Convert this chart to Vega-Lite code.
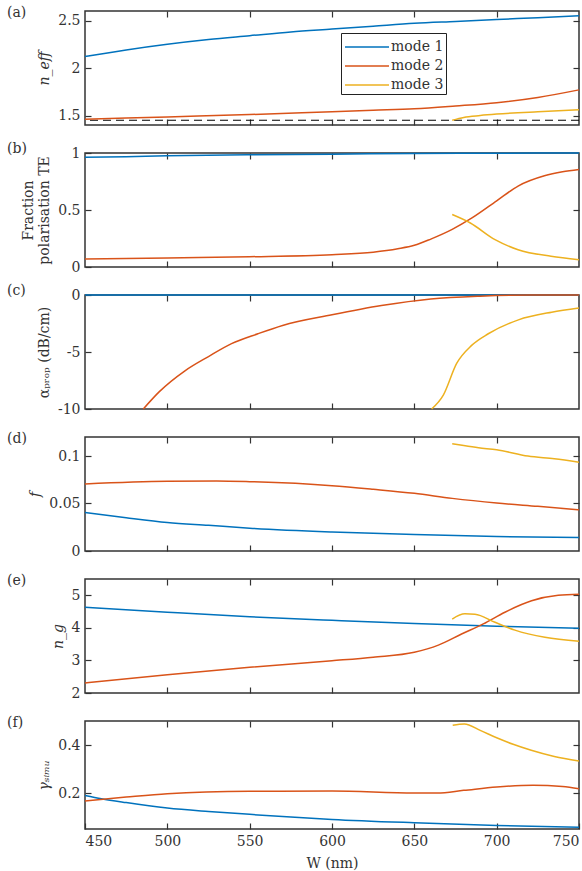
{
  "$schema": "https://vega.github.io/schema/vega-lite/v6.json",
  "padding": {"left": 6, "top": 5, "right": 0, "bottom": 0},
  "spacing": 28,
  "bounds": "flush",
  "datasets": {
    "a": [
      {"W": 450, "mode": "mode 1", "v": 2.12}, {"W": 475, "mode": "mode 1", "v": 2.19}, {"W": 500, "mode": "mode 1", "v": 2.25}, {"W": 525, "mode": "mode 1", "v": 2.30}, {"W": 550, "mode": "mode 1", "v": 2.34}, {"W": 575, "mode": "mode 1", "v": 2.38}, {"W": 600, "mode": "mode 1", "v": 2.41}, {"W": 625, "mode": "mode 1", "v": 2.44}, {"W": 650, "mode": "mode 1", "v": 2.47}, {"W": 675, "mode": "mode 1", "v": 2.49}, {"W": 700, "mode": "mode 1", "v": 2.51}, {"W": 725, "mode": "mode 1", "v": 2.53}, {"W": 750, "mode": "mode 1", "v": 2.55},
      {"W": 450, "mode": "mode 2", "v": 1.46}, {"W": 500, "mode": "mode 2", "v": 1.485}, {"W": 550, "mode": "mode 2", "v": 1.51}, {"W": 600, "mode": "mode 2", "v": 1.54}, {"W": 625, "mode": "mode 2", "v": 1.555}, {"W": 650, "mode": "mode 2", "v": 1.57}, {"W": 675, "mode": "mode 2", "v": 1.6}, {"W": 700, "mode": "mode 2", "v": 1.635}, {"W": 725, "mode": "mode 2", "v": 1.69}, {"W": 750, "mode": "mode 2", "v": 1.77},
      {"W": 673, "mode": "mode 3", "v": 1.45}, {"W": 680, "mode": "mode 3", "v": 1.48}, {"W": 690, "mode": "mode 3", "v": 1.5}, {"W": 700, "mode": "mode 3", "v": 1.515}, {"W": 725, "mode": "mode 3", "v": 1.54}, {"W": 750, "mode": "mode 3", "v": 1.56}
    ],
    "b": [
      {"W": 450, "mode": "mode 1", "v": 0.962}, {"W": 475, "mode": "mode 1", "v": 0.968}, {"W": 500, "mode": "mode 1", "v": 0.975}, {"W": 550, "mode": "mode 1", "v": 0.985}, {"W": 600, "mode": "mode 1", "v": 0.99}, {"W": 650, "mode": "mode 1", "v": 0.995}, {"W": 700, "mode": "mode 1", "v": 0.998}, {"W": 750, "mode": "mode 1", "v": 1.0},
      {"W": 450, "mode": "mode 2", "v": 0.07}, {"W": 500, "mode": "mode 2", "v": 0.08}, {"W": 550, "mode": "mode 2", "v": 0.09}, {"W": 600, "mode": "mode 2", "v": 0.108}, {"W": 625, "mode": "mode 2", "v": 0.13}, {"W": 640, "mode": "mode 2", "v": 0.16}, {"W": 650, "mode": "mode 2", "v": 0.19}, {"W": 660, "mode": "mode 2", "v": 0.245}, {"W": 673, "mode": "mode 2", "v": 0.33}, {"W": 685, "mode": "mode 2", "v": 0.43}, {"W": 700, "mode": "mode 2", "v": 0.58}, {"W": 713, "mode": "mode 2", "v": 0.71}, {"W": 729, "mode": "mode 2", "v": 0.8}, {"W": 740, "mode": "mode 2", "v": 0.835}, {"W": 750, "mode": "mode 2", "v": 0.855},
      {"W": 673, "mode": "mode 3", "v": 0.46}, {"W": 684, "mode": "mode 3", "v": 0.386}, {"W": 699, "mode": "mode 3", "v": 0.24}, {"W": 713, "mode": "mode 3", "v": 0.152}, {"W": 733, "mode": "mode 3", "v": 0.094}, {"W": 750, "mode": "mode 3", "v": 0.064}
    ],
    "c": [
      {"W": 450, "mode": "mode 1", "v": 0}, {"W": 600, "mode": "mode 1", "v": 0}, {"W": 750, "mode": "mode 1", "v": 0},
      {"W": 485.4, "mode": "mode 2", "v": -10}, {"W": 495, "mode": "mode 2", "v": -8.5}, {"W": 510.7, "mode": "mode 2", "v": -6.65}, {"W": 525, "mode": "mode 2", "v": -5.4}, {"W": 539, "mode": "mode 2", "v": -4.27}, {"W": 555, "mode": "mode 2", "v": -3.4}, {"W": 570, "mode": "mode 2", "v": -2.67}, {"W": 600, "mode": "mode 2", "v": -1.74}, {"W": 630, "mode": "mode 2", "v": -0.93}, {"W": 660, "mode": "mode 2", "v": -0.35}, {"W": 690, "mode": "mode 2", "v": -0.1}, {"W": 720, "mode": "mode 2", "v": 0}, {"W": 750, "mode": "mode 2", "v": 0},
      {"W": 660.5, "mode": "mode 3", "v": -10}, {"W": 667.6, "mode": "mode 3", "v": -8.78}, {"W": 675.7, "mode": "mode 3", "v": -6.0}, {"W": 684.8, "mode": "mode 3", "v": -4.42}, {"W": 694.9, "mode": "mode 3", "v": -3.4}, {"W": 713.2, "mode": "mode 3", "v": -2.18}, {"W": 733.4, "mode": "mode 3", "v": -1.51}, {"W": 750, "mode": "mode 3", "v": -1.15}
    ],
    "d": [
      {"W": 450, "mode": "mode 1", "v": 0.0406}, {"W": 475, "mode": "mode 1", "v": 0.035}, {"W": 500, "mode": "mode 1", "v": 0.030}, {"W": 525, "mode": "mode 1", "v": 0.027}, {"W": 550, "mode": "mode 1", "v": 0.024}, {"W": 600, "mode": "mode 1", "v": 0.020}, {"W": 650, "mode": "mode 1", "v": 0.0173}, {"W": 700, "mode": "mode 1", "v": 0.0152}, {"W": 750, "mode": "mode 1", "v": 0.0142},
      {"W": 450, "mode": "mode 2", "v": 0.0706}, {"W": 500, "mode": "mode 2", "v": 0.0734}, {"W": 530, "mode": "mode 2", "v": 0.0737}, {"W": 550, "mode": "mode 2", "v": 0.073}, {"W": 600, "mode": "mode 2", "v": 0.0688}, {"W": 625, "mode": "mode 2", "v": 0.065}, {"W": 650, "mode": "mode 2", "v": 0.0607}, {"W": 673, "mode": "mode 2", "v": 0.0554}, {"W": 700, "mode": "mode 2", "v": 0.0505}, {"W": 725, "mode": "mode 2", "v": 0.047}, {"W": 750, "mode": "mode 2", "v": 0.0434},
      {"W": 673, "mode": "mode 3", "v": 0.113}, {"W": 680, "mode": "mode 3", "v": 0.111}, {"W": 689, "mode": "mode 3", "v": 0.1087}, {"W": 700, "mode": "mode 3", "v": 0.1066}, {"W": 719, "mode": "mode 3", "v": 0.0999}, {"W": 735, "mode": "mode 3", "v": 0.097}, {"W": 750, "mode": "mode 3", "v": 0.0935}
    ],
    "e": [
      {"W": 450, "mode": "mode 1", "v": 4.63}, {"W": 500, "mode": "mode 1", "v": 4.48}, {"W": 550, "mode": "mode 1", "v": 4.34}, {"W": 600, "mode": "mode 1", "v": 4.23}, {"W": 650, "mode": "mode 1", "v": 4.13}, {"W": 700, "mode": "mode 1", "v": 4.05}, {"W": 750, "mode": "mode 1", "v": 3.99},
      {"W": 450, "mode": "mode 2", "v": 2.31}, {"W": 500, "mode": "mode 2", "v": 2.56}, {"W": 550, "mode": "mode 2", "v": 2.79}, {"W": 600, "mode": "mode 2", "v": 2.99}, {"W": 625, "mode": "mode 2", "v": 3.1}, {"W": 650, "mode": "mode 2", "v": 3.25}, {"W": 664.6, "mode": "mode 2", "v": 3.47}, {"W": 678.7, "mode": "mode 2", "v": 3.81}, {"W": 691.9, "mode": "mode 2", "v": 4.12}, {"W": 705, "mode": "mode 2", "v": 4.48}, {"W": 721.2, "mode": "mode 2", "v": 4.83}, {"W": 737.4, "mode": "mode 2", "v": 5.0}, {"W": 750, "mode": "mode 2", "v": 5.03},
      {"W": 673, "mode": "mode 3", "v": 4.27}, {"W": 680.7, "mode": "mode 3", "v": 4.43}, {"W": 686.8, "mode": "mode 3", "v": 4.42}, {"W": 699, "mode": "mode 3", "v": 4.17}, {"W": 711.1, "mode": "mode 3", "v": 3.93}, {"W": 729.3, "mode": "mode 3", "v": 3.71}, {"W": 750, "mode": "mode 3", "v": 3.59}
    ],
    "f": [
      {"W": 450, "mode": "mode 1", "v": 0.19}, {"W": 460, "mode": "mode 1", "v": 0.176}, {"W": 475, "mode": "mode 1", "v": 0.16}, {"W": 500, "mode": "mode 1", "v": 0.1375}, {"W": 525, "mode": "mode 1", "v": 0.123}, {"W": 550, "mode": "mode 1", "v": 0.111}, {"W": 575, "mode": "mode 1", "v": 0.1}, {"W": 600, "mode": "mode 1", "v": 0.09}, {"W": 650, "mode": "mode 1", "v": 0.076}, {"W": 700, "mode": "mode 1", "v": 0.065}, {"W": 750, "mode": "mode 1", "v": 0.057},
      {"W": 450, "mode": "mode 2", "v": 0.167}, {"W": 475, "mode": "mode 2", "v": 0.183}, {"W": 500, "mode": "mode 2", "v": 0.197}, {"W": 550, "mode": "mode 2", "v": 0.207}, {"W": 600, "mode": "mode 2", "v": 0.208}, {"W": 650, "mode": "mode 2", "v": 0.2}, {"W": 664, "mode": "mode 2", "v": 0.2}, {"W": 680, "mode": "mode 2", "v": 0.211}, {"W": 700, "mode": "mode 2", "v": 0.225}, {"W": 722, "mode": "mode 2", "v": 0.232}, {"W": 740, "mode": "mode 2", "v": 0.227}, {"W": 750, "mode": "mode 2", "v": 0.218},
      {"W": 673.3, "mode": "mode 3", "v": 0.482}, {"W": 680.4, "mode": "mode 3", "v": 0.4875}, {"W": 690, "mode": "mode 3", "v": 0.461}, {"W": 700, "mode": "mode 3", "v": 0.43}, {"W": 710, "mode": "mode 3", "v": 0.403}, {"W": 721, "mode": "mode 3", "v": 0.378}, {"W": 735, "mode": "mode 3", "v": 0.352}, {"W": 750, "mode": "mode 3", "v": 0.333}
    ]
  },
  "vconcat": [
    {
      "width": 494, "height": 114,
      "title": {"text": "(a)"},
      "layer": [
        {"data": {"name": "a"}, "transform": [{"filter": "datum.mode == 'mode 1'"}], "mark": {"type": "line", "strokeWidth": 1.5, "interpolate": "monotone"},
          "encoding": {"x": {"field": "W", "type": "quantitative", "scale": {"domain": [450, 750], "nice": false, "zero": false}, "axis": {"orient": "bottom", "values": [500, 550, 600, 650, 700], "labels": false, "title": null}},
                       "y": {"field": "v", "type": "quantitative", "scale": {"domain": [1.4, 2.6], "nice": false, "zero": false}, "axis": {"orient": "left", "values": [1.5, 2, 2.5], "labelExpr": "'' + datum.value", "title": "n_eff", "titleFontStyle": "italic"}},
                       "color": {"field": "mode", "type": "nominal", "scale": {"domain": ["mode 1", "mode 2", "mode 3"], "range": ["#0072BD", "#D95319", "#EDB120"]},
                         "legend": {"orient": "none", "legendX": 256, "legendY": 22, "title": null, "symbolType": "M-2,0H2", "symbolSize": 484, "symbolStrokeWidth": 1.5, "strokeColor": "#222", "fillColor": "white", "padding": 2, "rowPadding": 0, "symbolOffset": 12, "labelOffset": 12, "labelFont": "DejaVu Serif", "labelFontSize": 14, "labelColor": "#333"}}}},
        {"data": {"values": [{"n": 1.45}]}, "mark": {"type": "rule", "color": "black", "strokeDash": [8, 5], "strokeWidth": 1.2}, "encoding": {"y": {"field": "n", "type": "quantitative", "axis": null}}},
        {"data": {"name": "a"}, "transform": [{"filter": "datum.mode != 'mode 1'"}], "mark": {"type": "line", "strokeWidth": 1.5, "interpolate": "monotone"},
          "encoding": {"x": {"field": "W", "type": "quantitative", "axis": {"orient": "top", "values": [500, 550, 600, 650, 700], "labels": false, "title": null}},
                       "y": {"field": "v", "type": "quantitative", "axis": {"orient": "right", "values": [1.5, 2, 2.5], "labels": false, "title": null}},
                       "color": {"field": "mode", "type": "nominal"}}}
      ],
      "resolve": {"axis": {"x": "independent", "y": "independent"}}
    },
    {
      "width": 494, "height": 114,
      "data": {"name": "b"},
      "title": {"text": "(b)"},
      "encoding": {
        "x": {"field": "W", "type": "quantitative", "scale": {"domain": [450, 750], "nice": false, "zero": false}},
        "y": {"field": "v", "type": "quantitative", "scale": {"domain": [0, 1], "nice": false, "zero": false}},
        "color": {"field": "mode", "type": "nominal", "scale": {"domain": ["mode 1", "mode 2", "mode 3"], "range": ["#0072BD", "#D95319", "#EDB120"]}, "legend": null}
      },
      "layer": [
        {"transform": [{"filter": "datum.mode == 'mode 1'"}], "mark": {"type": "line", "strokeWidth": 1.5, "interpolate": "monotone"},
          "encoding": {"x": {"field": "W", "type": "quantitative", "axis": {"orient": "bottom", "values": [500, 550, 600, 650, 700], "labels": false, "title": null}},
                       "y": {"field": "v", "type": "quantitative", "axis": {"orient": "left", "values": [0, 0.5, 1], "labelExpr": "'' + datum.value", "title": ["Fraction", "polarisation TE"]}}}},
        {"transform": [{"filter": "datum.mode != 'mode 1'"}], "mark": {"type": "line", "strokeWidth": 1.5, "interpolate": "monotone"},
          "encoding": {"x": {"field": "W", "type": "quantitative", "axis": {"orient": "top", "values": [500, 550, 600, 650, 700], "labels": false, "title": null}},
                       "y": {"field": "v", "type": "quantitative", "axis": {"orient": "right", "values": [0.5], "labels": false, "title": null}}}}
      ],
      "resolve": {"axis": {"x": "independent", "y": "independent"}}
    },
    {
      "width": 494, "height": 114,
      "data": {"name": "c"},
      "title": {"text": "(c)"},
      "encoding": {
        "x": {"field": "W", "type": "quantitative", "scale": {"domain": [450, 750], "nice": false, "zero": false}},
        "y": {"field": "v", "type": "quantitative", "scale": {"domain": [-10, 0], "nice": false, "zero": false}},
        "color": {"field": "mode", "type": "nominal", "scale": {"domain": ["mode 1", "mode 2", "mode 3"], "range": ["#0072BD", "#D95319", "#EDB120"]}, "legend": null}
      },
      "layer": [
        {"transform": [{"filter": "datum.mode == 'mode 1'"}], "mark": {"type": "line", "strokeWidth": 1.5, "interpolate": "monotone"},
          "encoding": {"x": {"field": "W", "type": "quantitative", "axis": {"orient": "bottom", "values": [500, 550, 600, 650, 700], "labels": false, "title": null}},
                       "y": {"field": "v", "type": "quantitative", "axis": {"orient": "left", "values": [-10, -5, 0], "labelExpr": "'' + datum.value", "title": "αₚᵣₒₚ (dB/cm)"}}}},
        {"transform": [{"filter": "datum.mode != 'mode 1'"}], "mark": {"type": "line", "strokeWidth": 1.5, "interpolate": "monotone"},
          "encoding": {"x": {"field": "W", "type": "quantitative", "axis": {"orient": "top", "values": [500, 550, 600, 650, 700], "labels": false, "title": null}},
                       "y": {"field": "v", "type": "quantitative", "axis": {"orient": "right", "values": [-5], "labels": false, "title": null}}}}
      ],
      "resolve": {"axis": {"x": "independent", "y": "independent"}}
    },
    {
      "width": 494, "height": 114,
      "data": {"name": "d"},
      "title": {"text": "(d)"},
      "encoding": {
        "x": {"field": "W", "type": "quantitative", "scale": {"domain": [450, 750], "nice": false, "zero": false}},
        "y": {"field": "v", "type": "quantitative", "scale": {"domain": [0, 0.12], "nice": false, "zero": false}},
        "color": {"field": "mode", "type": "nominal", "scale": {"domain": ["mode 1", "mode 2", "mode 3"], "range": ["#0072BD", "#D95319", "#EDB120"]}, "legend": null}
      },
      "layer": [
        {"transform": [{"filter": "datum.mode == 'mode 1'"}], "mark": {"type": "line", "strokeWidth": 1.5, "interpolate": "monotone"},
          "encoding": {"x": {"field": "W", "type": "quantitative", "axis": {"orient": "bottom", "values": [500, 550, 600, 650, 700], "labels": false, "title": null}},
                       "y": {"field": "v", "type": "quantitative", "axis": {"orient": "left", "values": [0, 0.05, 0.1], "labelExpr": "'' + datum.value", "title": "f", "titleFontStyle": "italic"}}}},
        {"transform": [{"filter": "datum.mode != 'mode 1'"}], "mark": {"type": "line", "strokeWidth": 1.5, "interpolate": "monotone"},
          "encoding": {"x": {"field": "W", "type": "quantitative", "axis": {"orient": "top", "values": [500, 550, 600, 650, 700], "labels": false, "title": null}},
                       "y": {"field": "v", "type": "quantitative", "axis": {"orient": "right", "values": [0.05, 0.1], "labels": false, "title": null}}}}
      ],
      "resolve": {"axis": {"x": "independent", "y": "independent"}}
    },
    {
      "width": 494, "height": 114,
      "data": {"name": "e"},
      "title": {"text": "(e)"},
      "encoding": {
        "x": {"field": "W", "type": "quantitative", "scale": {"domain": [450, 750], "nice": false, "zero": false}},
        "y": {"field": "v", "type": "quantitative", "scale": {"domain": [2, 5.5], "nice": false, "zero": false}},
        "color": {"field": "mode", "type": "nominal", "scale": {"domain": ["mode 1", "mode 2", "mode 3"], "range": ["#0072BD", "#D95319", "#EDB120"]}, "legend": null}
      },
      "layer": [
        {"transform": [{"filter": "datum.mode == 'mode 1'"}], "mark": {"type": "line", "strokeWidth": 1.5, "interpolate": "monotone"},
          "encoding": {"x": {"field": "W", "type": "quantitative", "axis": {"orient": "bottom", "values": [500, 550, 600, 650, 700], "labels": false, "title": null}},
                       "y": {"field": "v", "type": "quantitative", "axis": {"orient": "left", "values": [2, 3, 4, 5], "labelExpr": "'' + datum.value", "title": "n_g", "titleFontStyle": "italic"}}}},
        {"transform": [{"filter": "datum.mode != 'mode 1'"}], "mark": {"type": "line", "strokeWidth": 1.5, "interpolate": "monotone"},
          "encoding": {"x": {"field": "W", "type": "quantitative", "axis": {"orient": "top", "values": [500, 550, 600, 650, 700], "labels": false, "title": null}},
                       "y": {"field": "v", "type": "quantitative", "axis": {"orient": "right", "values": [3, 4, 5], "labels": false, "title": null}}}}
      ],
      "resolve": {"axis": {"x": "independent", "y": "independent"}}
    },
    {
      "width": 494, "height": 108,
      "data": {"name": "f"},
      "title": {"text": "(f)"},
      "encoding": {
        "x": {"field": "W", "type": "quantitative", "scale": {"domain": [450, 750], "nice": false, "zero": false}},
        "y": {"field": "v", "type": "quantitative", "scale": {"domain": [0.05, 0.5], "nice": false, "zero": false}},
        "color": {"field": "mode", "type": "nominal", "scale": {"domain": ["mode 1", "mode 2", "mode 3"], "range": ["#0072BD", "#D95319", "#EDB120"]}, "legend": null}
      },
      "layer": [
        {"transform": [{"filter": "datum.mode == 'mode 1'"}], "mark": {"type": "line", "strokeWidth": 1.5, "interpolate": "monotone"},
          "encoding": {"x": {"field": "W", "type": "quantitative", "axis": {"orient": "bottom", "values": [450, 500, 550, 600, 650, 700, 750], "labelExpr": "'' + datum.value", "title": "W (nm)", "titlePadding": 8}},
                       "y": {"field": "v", "type": "quantitative", "axis": {"orient": "left", "values": [0.2, 0.4], "labelExpr": "'' + datum.value", "title": "γₛᵢₘᵤ", "titleFontStyle": "italic"}}}},
        {"transform": [{"filter": "datum.mode != 'mode 1'"}], "mark": {"type": "line", "strokeWidth": 1.5, "interpolate": "monotone"},
          "encoding": {"x": {"field": "W", "type": "quantitative", "axis": {"orient": "top", "values": [500, 550, 600, 650, 700], "labels": false, "title": null}},
                       "y": {"field": "v", "type": "quantitative", "axis": {"orient": "right", "values": [0.2, 0.4], "labels": false, "title": null}}}}
      ],
      "resolve": {"axis": {"x": "independent", "y": "independent"}}
    }
  ],
  "config": {
    "background": "white",
    "view": {"stroke": "#333", "strokeWidth": 1.5},
    "title": {"anchor": "start", "frame": "group", "orient": "top", "offset": 0, "dx": -78, "dy": 14, "baseline": "middle", "font": "DejaVu Serif", "fontSize": 14, "fontWeight": "normal", "color": "#333"},
    "axis": {"domain": false, "grid": false, "tickSize": -6, "tickColor": "#333", "tickWidth": 1.2, "labelPadding": 11, "labelFont": "DejaVu Serif", "labelFontSize": 14, "labelColor": "#333", "titleFont": "DejaVu Serif", "titleFontSize": 14, "titleFontWeight": "normal", "titleColor": "#333", "titlePadding": 6}
  }
}
